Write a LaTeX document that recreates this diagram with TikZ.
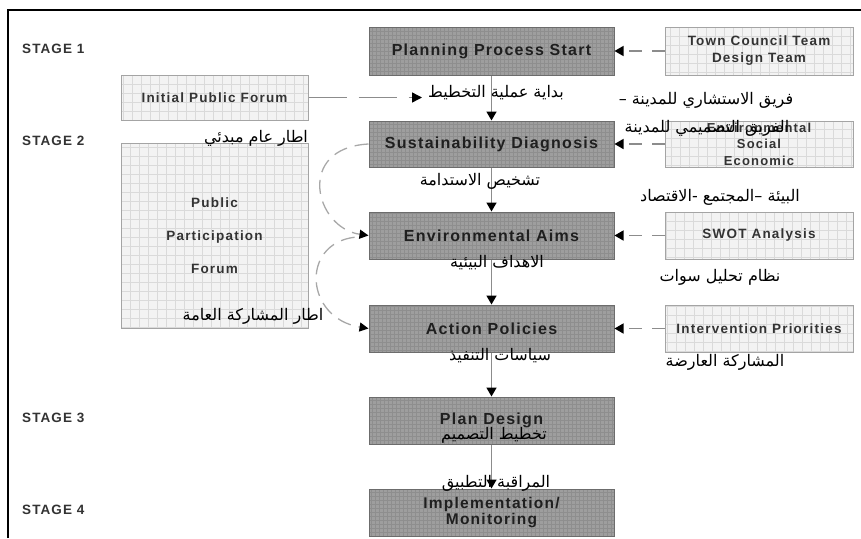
\documentclass[tikz,border=0pt]{standalone}
\usepackage{fontspec}
\setmainfont{Liberation Sans}
\newfontfamily\lblfont[LetterSpace=8]{Liberation Sans}
\newfontfamily\sidefont[LetterSpace=9]{Liberation Sans}
\newfontfamily\arfont[Script=Arabic]{DejaVu Sans}
\TeXXeTstate=1
\usetikzlibrary{arrows.meta}
\definecolor{mainfill}{HTML}{9E9E9E}
\definecolor{maingrid}{HTML}{8E8E8E}
\definecolor{mainedge}{HTML}{6C6C6C}
\definecolor{sidefill}{HTML}{F3F3F3}
\definecolor{sidegrid}{HTML}{DADADA}
\definecolor{sideedge}{HTML}{A4A4A4}
\definecolor{conn}{HTML}{8C8C8C}
\definecolor{curvecol}{HTML}{A8A8A8}
\definecolor{sidetext}{HTML}{333333}
\tikzset{
  mainbox/.style={draw=mainedge, line width=1pt, fill=mainfill, minimum width=245pt, minimum height=47pt, inner sep=0pt, align=center,
    font=\lblfont\bfseries\fontsize{16}{16}\selectfont, text=black!88,
    path picture={\draw[maingrid, line width=0.35pt] (path picture bounding box.south west) grid[step=4pt] (path picture bounding box.north east);}},
  sidebox/.style={draw=sideedge, line width=1pt, fill=sidefill, minimum width=188pt, minimum height=47pt, inner sep=0pt, align=center,
    font=\sidefont\bfseries\fontsize{13.5}{17}\selectfont, text=sidetext,
    path picture={\draw[sidegrid, line width=0.4pt] (path picture bounding box.south west) grid[step=9pt] (path picture bounding box.north east);}},
  stagelbl/.style={anchor=west, inner sep=0pt, font=\lblfont\bfseries\fontsize{13.5}{13.5}\selectfont, text=sidetext},
  arlbl/.style={inner sep=0pt, font=\arfont\fontsize{16}{16}\selectfont, text=black},
  vert/.style={draw=conn, line width=1.6pt, -{Triangle[length=9pt,width=10pt,color=black]}},
  sidearr/.style={draw=conn, line width=1.4pt, dash pattern=on 13pt off 10pt, -{Triangle[length=9pt,width=10pt,color=black]}},
  ipfarr/.style={draw=conn, line width=1.4pt, dash pattern=on 38pt off 12pt, -{Triangle[length=10pt,width=10pt,color=black]}},
  curvarr/.style={draw=curvecol, line width=1.3pt, dash pattern=on 14pt off 8pt, -{Triangle[length=9pt,width=9pt,color=black]}},
}
\begin{document}
\begin{tikzpicture}[x=1pt,y=-1pt]
\useasboundingbox (0,0) rectangle (861,538);
% frame
\draw[line width=2.6pt] (8,538) -- (8,10) -- (861,10);
% stage labels
\node[stagelbl] (s1) at (22,49) {STAGE 1};
\node[stagelbl] (s2) at (22,141) {STAGE 2};
\node[stagelbl] (s3) at (22,418) {STAGE 3};
\node[stagelbl] (s4) at (22,510) {STAGE 4};
% main column
\node[mainbox, minimum height=48pt] (pps) at (491.5,51) {Planning Process Start};
\node[mainbox, minimum height=46pt] (sd) at (491.5,144) {Sustainability Diagnosis};
\node[mainbox] (ea) at (491.5,235.5) {Environmental Aims};
\node[mainbox] (ap) at (491.5,328.5) {Action Policies};
\node[mainbox] (pd) at (491.5,420.5) {Plan Design};
\node[mainbox, font=\lblfont\bfseries\fontsize{15.5}{15.5}\selectfont] (im) at (491.5,512.5) {Implementation/\\Monitoring};
% side boxes
\node[sidebox, minimum height=48pt] (tc) at (759,51) {Town Council Team\\Design Team};
\node[sidebox, minimum height=46pt, font=\sidefont\bfseries\fontsize{13}{16.5}\selectfont] (ese) at (759,144) {Environmental\\Social\\Economic};
\node[sidebox] (swot) at (759,235.5) {SWOT Analysis};
\node[sidebox] (ip) at (759,328.5) {Intervention Priorities};
% left boxes
\node[sidebox, minimum width=187pt, minimum height=45pt] (ipf) at (214.5,97.5) {Initial Public Forum};
\node[sidebox, minimum width=187pt, minimum height=185pt, font=\sidefont\bfseries\fontsize{13.5}{33}\selectfont] (ppf) at (214.5,235.5) {Public\\Participation\\Forum};
% vertical connectors
\draw[vert] (pps.south) -- (sd.north);
\draw[vert] (sd.south) -- (ea.north);
\draw[vert] (ea.south) -- (ap.north);
\draw[vert] (ap.south) -- (pd.north);
\draw[vert] (pd.south) -- (im.north);
% side connectors
\draw[sidearr] (tc.west) -- (pps.east);
\draw[sidearr] (ese.west) -- (sd.east);
\draw[sidearr] (swot.west) -- (ea.east);
\draw[sidearr] (ip.west) -- (ap.east);
% initial public forum
\coordinate (ipfend) at (422,97.5);
\draw[ipfarr] (ipf.east) -- (ipfend);
% curved dashed connectors
\draw[curvarr] (sd.west) .. controls (295,148) and (315,228) .. (ea.west);
\draw[curvarr, shorten <=14pt] (ea.west) .. controls (300,244) and (305,318) .. (ap.west);
% arabic labels
\node[arlbl] (a1) at (496,93) {\beginR بداية عملية التخطيط\endR};
\node[arlbl] (a2) at (706,100) {\beginR فريق الاستشاري للمدينة –\endR};
\node[arlbl] (a3) at (707,128) {\beginR الفريق التصميمي للمدينة\endR};
\node[arlbl] (a4) at (256,138) {\beginR اطار عام مبدئي\endR};
\node[arlbl] (a5) at (480,181) {\beginR تشخيص الاستدامة\endR};
\node[arlbl] (a6) at (720,197) {\beginR البيئة –المجتمع -الاقتصاد\endR};
\node[arlbl] (a7) at (497,263) {\beginR الاهداف البيئية\endR};
\node[arlbl] (a8) at (720,277) {\beginR نظام تحليل سوات\endR};
\node[arlbl] (a9) at (253,316) {\beginR اطار المشاركة العامة\endR};
\node[arlbl] (a10) at (500,356) {\beginR سياسات التنفيذ\endR};
\node[arlbl] (a11) at (725,362) {\beginR المشاركة العارضة\endR};
\node[arlbl] (a12) at (494,435) {\beginR تخطيط التصميم\endR};
\node[arlbl] (a13) at (496,483) {\beginR المراقبة التطبيق\endR};
\end{tikzpicture}
\end{document}
